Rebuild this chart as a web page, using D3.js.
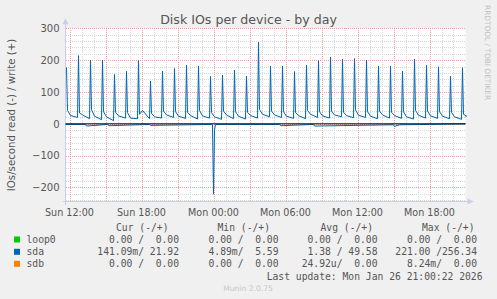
<!DOCTYPE html>
<html lang="en"><head><meta charset="utf-8">
<script src="https://cdn.jsdelivr.net/npm/d3@7/dist/d3.min.js"></script>
<style>
body { margin: 0; background: #f0f0f0; }
text { font-family: "DejaVu Sans", sans-serif; }
.mono { font-family: "DejaVu Sans Mono", monospace; white-space: pre; }
</style>
</head>
<body>
<script>
// Munin style "Disk IOs per device - by day"
var width = 497, height = 299;
var pLeft = 65.5, pRight = 465.5, pTop = 28.3, pBottom = 201.5;

// hourly write bursts on sda (write, positive side)
var spikeTimes = ["25 11:45","25 12:45","25 13:45","25 14:45","25 15:45","25 16:45","25 17:45",
  "25 18:45","25 19:45","25 20:45","25 21:45","25 22:45","25 23:45","26 00:45","26 01:45",
  "26 02:45","26 03:45","26 04:45","26 05:45","26 06:45","26 07:45","26 08:45","26 09:45",
  "26 10:45","26 11:45","26 12:45","26 13:45","26 14:45","26 15:45","26 16:45","26 17:45",
  "26 18:45","26 19:45","26 20:45"];
var spikePeak = [177,214,200,200,155,165,198,134,166,174,184,181,149,153,169,150,257,
  181,181,164,184,198,210,203,205,200,181,181,166,203,184,179,150,176];
var afterPeak = [42,34,44,38,36,35,30,33,40,38,36,42,35,40,38,36,45,
  40,38,35,42,38,40,36,44,38,40,36,38,42,40,38,36,30];
var midHour = [26,28,24,22,25,18,42,22,28,24,26,25,22,28,24,26,30,
  28,24,26,30,25,28,26,27,24,28,26,22,27,25,24,22,24];
var lowBefore = [20,16,13,10,18,16,16,18,20,17,15,18,14,16,15,18,22,
  20,17,16,20,18,22,19,20,16,18,17,15,18,17,16,14,21.92];

// sda read (negative side)
var readTimes = ["25 11:40","25 13:20","25 13:25","25 15:10","25 15:15","25 18:40","25 18:45",
  "25 23:50","25 23:55","26 00:00","26 00:05","26 00:10","26 05:30","26 05:35","26 08:20","26 08:25",
  "26 15:00","26 15:05","26 15:30","26 18:00","26 21:00"];
var readValues = [2,2,7,2,6,2,5,2,3,221,20,2,2,6,2,7,3,8,3,2,0.14];

var yTicks = [300,200,100,0,-100,-200];
var xLabels = [["25 12:00","Sun 12:00"],["25 18:00","Sun 18:00"],["26 00:00","Mon 00:00"],
  ["26 06:00","Mon 06:00"],["26 12:00","Mon 12:00"],["26 18:00","Mon 18:00"]];

var legendNames = ["loop0","sda","sdb"];
var legendColors = ["#00cc00","#0066b3","#ff8000"];
var curCol = ["0.00 /  0.00","141.09m/ 21.92","0.00 /  0.00"];
var minCol = ["0.00 /  0.00","4.89m/  5.59","0.00 /  0.00"];
var avgCol = ["0.00 /  0.00","1.38 / 49.58","24.92u/  0.00"];
var maxCol = ["0.00 /  0.00","221.00 /256.34","8.24m/  0.00"];
var headers = ["Cur (-/+)","Min (-/+)","Avg (-/+)","Max (-/+)"];

var parse = function(s) { return d3.timeParse("%Y-%m-%d %H:%M")("2026-01-" + s); };

var writeData = [];
spikeTimes.forEach(function(s, i) {
  var t = parse(s);
  writeData.push([t, spikePeak[i]]);
  writeData.push([d3.timeMinute.offset(t, 5), afterPeak[i]]);
  writeData.push([d3.timeMinute.offset(t, 20), midHour[i]]);
  writeData.push([d3.timeMinute.offset(t, i == spikeTimes.length - 1 ? 15 : 55), lowBefore[i]]);
});
var readData = readTimes.map(function(s, i) { return [parse(s), -readValues[i]]; });

var x = d3.scaleTime().domain([parse("25 11:40"), parse("26 21:00")]).range([pLeft, pRight]);
var y = d3.scaleLinear().domain([-244, 300]).range([pBottom, pTop]);

var svg = d3.select("body").append("svg").attr("width", width).attr("height", height);
svg.append("rect").attr("width", width).attr("height", height).attr("fill", "#f0f0f0");
svg.append("rect").attr("x", pLeft).attr("y", pTop).attr("width", pRight - pLeft)
  .attr("height", pBottom - pTop).attr("fill", "#ffffff");

// grid
var minorY = d3.range(-240, 301, 20).filter(function(v) { return v % 100 != 0; });
var minorX = d3.timeHour.every(1).range(x.domain()[0], x.domain()[1]);
var majorX = d3.timeHour.every(3).range(x.domain()[0], x.domain()[1]);
var g = svg.append("g").attr("shape-rendering", "crispEdges");
g.selectAll(".mny").data(minorY).enter().append("line")
  .attr("x1", pLeft).attr("x2", pRight)
  .attr("y1", function(d) { return Math.round(y(d)) + 0.5; })
  .attr("y2", function(d) { return Math.round(y(d)) + 0.5; })
  .attr("stroke", "#d6d6d6").attr("stroke-dasharray", "1,1");
g.selectAll(".mnx").data(minorX).enter().append("line")
  .attr("y1", pTop).attr("y2", pBottom)
  .attr("x1", function(d) { return Math.round(x(d)) + 0.5; })
  .attr("x2", function(d) { return Math.round(x(d)) + 0.5; })
  .attr("stroke", "#d6d6d6").attr("stroke-dasharray", "1,1");
g.selectAll(".mjy").data(yTicks).enter().append("line")
  .attr("x1", pLeft).attr("x2", pRight)
  .attr("y1", function(d) { return Math.round(y(d)) + 0.5; })
  .attr("y2", function(d) { return Math.round(y(d)) + 0.5; })
  .attr("stroke", "#e8a0a0").attr("stroke-dasharray", "1,1");
g.selectAll(".mjx").data(majorX).enter().append("line")
  .attr("y1", pTop).attr("y2", pBottom)
  .attr("x1", function(d) { return Math.round(x(d)) + 0.5; })
  .attr("x2", function(d) { return Math.round(x(d)) + 0.5; })
  .attr("stroke", "#e8a0a0").attr("stroke-dasharray", "1,1");

// axes lines with arrows
g.append("line").attr("x1", pLeft).attr("x2", pLeft).attr("y1", pBottom + 3).attr("y2", pTop - 6)
  .attr("stroke", "#c8cdf0");
g.append("line").attr("x1", pLeft - 3).attr("x2", pRight + 4).attr("y1", pBottom).attr("y2", pBottom)
  .attr("stroke", "#c8cdf0");
svg.append("path").attr("d", "M" + (pLeft - 3) + "," + (pTop - 4) + "L" + pLeft + "," + (pTop - 10) + "L" + (pLeft + 3) + "," + (pTop - 4) + "Z")
  .attr("fill", "#c8cdf0");
svg.append("path").attr("d", "M" + (pRight + 2) + "," + (pBottom - 3) + "L" + (pRight + 8) + "," + pBottom + "L" + (pRight + 2) + "," + (pBottom + 3) + "Z")
  .attr("fill", "#c8cdf0");

// series
var line = d3.line().x(function(d) { return x(d[0]); }).y(function(d) { return y(d[1]); });
svg.append("path").datum(readData).attr("d", line).attr("fill", "none")
  .attr("stroke", "#0066b3").attr("stroke-width", 1);
svg.append("path").datum(writeData).attr("d", line).attr("fill", "none")
  .attr("stroke", "#0066b3").attr("stroke-width", 1);
svg.append("line").attr("x1", pLeft).attr("x2", pRight)
  .attr("y1", y(0)).attr("y2", y(0)).attr("stroke", "#000000").attr("stroke-width", 1);

// axis labels
var yAxis = d3.axisLeft(y).tickValues(yTicks).tickSize(0).tickPadding(6);
var ya = svg.append("g").attr("transform", "translate(" + pLeft + ",0)").call(yAxis);
ya.select(".domain").remove();
ya.selectAll("text").attr("font-family", "DejaVu Sans").attr("font-size", 10).attr("fill", "#555555");

var xa = svg.append("g");
xa.selectAll("text").data(xLabels).enter().append("text")
  .attr("x", function(d) { return x(parse(d[0])); }).attr("y", 216)
  .attr("text-anchor", "middle").attr("font-size", 9.6).attr("fill", "#555555")
  .text(function(d) { return d[1]; });

svg.append("text").attr("x", 248.5).attr("y", 23.5).attr("text-anchor", "middle")
  .attr("font-size", 12.6).attr("fill", "#555555").text("Disk IOs per device - by day");
svg.append("text").attr("transform", "translate(15,115) rotate(-90)").attr("text-anchor", "middle")
  .attr("font-size", 10.2).attr("fill", "#555555").text("IOs/second read (-) / write (+)");
svg.append("text").attr("transform", "translate(484.5,5) rotate(90)").attr("text-anchor", "start")
  .attr("font-size", 7.4).attr("fill", "#c0c0c0").text("RRDTOOL / TOBI OETIKER");

// legend
var rowY = [243, 255.3, 267.3];
var leg = svg.append("g").attr("font-size", 9.7).attr("fill", "#555555");
leg.selectAll("rect").data(legendColors).enter().append("rect")
  .attr("x", 14).attr("y", function(d, i) { return rowY[i] - 6.5; })
  .attr("width", 6).attr("height", 6).attr("fill", function(d) { return d; });
leg.selectAll(".nm").data(legendNames).enter().append("text").attr("class", "mono")
  .attr("x", 26.5).attr("y", function(d, i) { return rowY[i]; }).text(function(d) { return d; });
var colEnds = [179, 278.5, 377.5, 477];
[curCol, minCol, avgCol, maxCol].forEach(function(col, c) {
  leg.selectAll(".c" + c).data(col).enter().append("text").attr("class", "mono")
    .attr("x", colEnds[c]).attr("y", function(d, i) { return rowY[i]; })
    .attr("text-anchor", "end").text(function(d) { return d; });
});
var headX = [116, 217.5, 320.5, 422];
leg.selectAll(".hd").data(headers).enter().append("text").attr("class", "mono")
  .attr("x", function(d, i) { return headX[i]; }).attr("y", 231).text(function(d) { return d; });
leg.append("text").attr("class", "mono").attr("x", 482.5).attr("y", 279.5)
  .attr("text-anchor", "end").text("Last update: Mon Jan 26 21:00:22 2026");

svg.append("text").attr("x", 248).attr("y", 290.5).attr("text-anchor", "middle")
  .attr("font-size", 7.6).attr("fill", "#c8c8c8").text("Munin 2.0.75");
</script>
</body></html>
